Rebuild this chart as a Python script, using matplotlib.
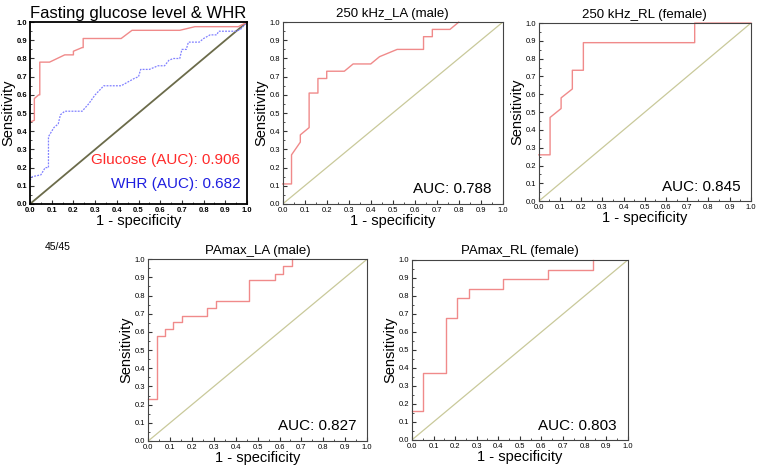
import matplotlib
matplotlib.use("Agg")
import matplotlib.pyplot as plt
from matplotlib.ticker import MultipleLocator

plt.rcParams['font.family'] = ['Liberation Sans', 'DejaVu Sans']

# ROC curves (x = 1 - specificity, y = sensitivity)
glu_x = [0, 0.02, 0.02, 0.04, 0.045, 0.045, 0.09, 0.16, 0.20, 0.20, 0.24, 0.245, 0.245, 0.42, 0.47, 0.69, 0.76, 0.96, 1.0]
glu_y = [0.45, 0.46, 0.58, 0.60, 0.60, 0.78, 0.78, 0.82, 0.82, 0.84, 0.86, 0.86, 0.91, 0.91, 0.955, 0.955, 0.975, 0.975, 1.0]

whr_x = [0, 0.01, 0.05, 0.07, 0.085, 0.085, 0.11, 0.13, 0.14, 0.16, 0.24, 0.27, 0.30, 0.34, 0.42, 0.45, 0.48, 0.50, 0.51, 0.55,
         0.59, 0.62, 0.64, 0.66, 0.69, 0.70, 0.72, 0.73, 0.78, 0.80, 0.83, 0.86, 0.87, 0.95, 0.97, 1.0]
whr_y = [0.13, 0.15, 0.16, 0.20, 0.20, 0.37, 0.42, 0.44, 0.49, 0.51, 0.51, 0.55, 0.60, 0.65, 0.65, 0.67, 0.69, 0.70, 0.74, 0.74,
         0.76, 0.76, 0.79, 0.80, 0.80, 0.85, 0.85, 0.89, 0.89, 0.91, 0.93, 0.93, 0.95, 0.95, 0.96, 1.0]

la250_x = [0, 0.04, 0.04, 0.08, 0.08, 0.12, 0.12, 0.16, 0.16, 0.20, 0.20, 0.28, 0.32, 0.40, 0.44, 0.52, 0.64, 0.64, 0.68, 0.68, 0.76, 0.80]
la250_y = [0.11, 0.11, 0.27, 0.34, 0.38, 0.42, 0.61, 0.61, 0.69, 0.69, 0.73, 0.73, 0.77, 0.77, 0.81, 0.85, 0.85, 0.92, 0.92, 0.96, 0.96, 1.0]

rl250_x = [0, 0.053, 0.053, 0.105, 0.105, 0.158, 0.158, 0.21, 0.21, 0.735, 0.735, 1.0]
rl250_y = [0.26, 0.26, 0.47, 0.52, 0.58, 0.63, 0.735, 0.735, 0.89, 0.89, 1.0, 1.0]

lapa_x = [0, 0.038, 0.038, 0.077, 0.077, 0.115, 0.115, 0.154, 0.154, 0.27, 0.27, 0.31, 0.31, 0.46, 0.46, 0.58, 0.58, 0.615, 0.615, 0.655, 0.655]
lapa_y = [0.23, 0.23, 0.58, 0.58, 0.615, 0.615, 0.655, 0.655, 0.69, 0.69, 0.73, 0.73, 0.77, 0.77, 0.885, 0.885, 0.92, 0.92, 0.96, 0.96, 1.0]

rlpa_x = [0, 0.053, 0.053, 0.158, 0.158, 0.21, 0.21, 0.263, 0.263, 0.42, 0.42, 0.63, 0.63, 0.84, 0.84]
rlpa_y = [0.16, 0.16, 0.37, 0.37, 0.68, 0.68, 0.79, 0.79, 0.84, 0.84, 0.895, 0.895, 0.947, 0.947, 1.0]

titles = ["250 kHz_LA (male)", "250 kHz_RL (female)", "PAmax_LA (male)", "PAmax_RL (female)"]
auc_labels = ["AUC: 0.788", "AUC: 0.845", "AUC: 0.827", "AUC: 0.803"]
curves = [(la250_x, la250_y), (rl250_x, rl250_y), (lapa_x, lapa_y), (rlpa_x, rlpa_y)]

roc_red = '#f08a8a'
diag_col = '#c9c99a'

fig = plt.figure(figsize=(7.6, 4.71), dpi=100)


def style_axes(ax, bold=False, lw=0.8):
    ax.set_xlim(0, 1)
    ax.set_ylim(0, 1)
    ticks = [round(i * 0.1, 1) for i in range(11)]
    ax.set_xticks(ticks)
    ax.set_yticks(ticks)
    ax.set_xticklabels([f"{t:.1f}" for t in ticks], fontweight='bold' if bold else 'normal')
    ax.set_yticklabels([f"{t:.1f}" for t in ticks], fontweight='bold' if bold else 'normal')
    ax.xaxis.set_minor_locator(MultipleLocator(0.05))
    ax.yaxis.set_minor_locator(MultipleLocator(0.05))
    ax.tick_params(which='both', direction='in', labelsize=5.5, pad=2, color='#333333')
    ax.tick_params(which='major', length=3)
    ax.tick_params(which='minor', length=1.5)
    for s in ax.spines.values():
        s.set_linewidth(lw)
        s.set_color('black' if bold else '#444444')
    ax.set_xlabel("1 - specificity", fontsize=10.5, labelpad=0)
    ax.set_ylabel("Sensitivity", fontsize=10.5, labelpad=1)


# panel 1: glucose & WHR
ax1 = fig.add_axes([0.0395, 0.567, 0.2855, 0.386])
ax1.plot([0, 1], [0, 1], color='#6b6b4a', lw=1.3)
ax1.plot(whr_x, whr_y, color='#8080ff', lw=0.9, ls=(0, (1.5, 1)))
ax1.plot(glu_x, glu_y, color=roc_red, lw=1.0)
style_axes(ax1, bold=True, lw=1.3)
ax1.set_title("Fasting glucose level & WHR", fontsize=12, pad=3)
ax1.text(0.97, 0.24, "Glucose (AUC): 0.906", color='#ff2a2a', fontsize=11, ha='right', va='center', transform=ax1.transAxes)
ax1.text(0.97, 0.11, "WHR (AUC): 0.682", color='#1f1fe0', fontsize=11, ha='right', va='center', transform=ax1.transAxes)

positions = [
    [0.372, 0.567, 0.2895, 0.386],
    [0.709, 0.573, 0.279, 0.378],
    [0.195, 0.0637, 0.288, 0.386],
    [0.542, 0.066, 0.284, 0.382],
]

for pos, title, auc, (cx, cy) in zip(positions, titles, auc_labels, curves):
    ax = fig.add_axes(pos)
    ax.plot([0, 1], [0, 1], color=diag_col, lw=0.9)
    ax.plot(cx, cy, color=roc_red, lw=1.0, clip_on=False)
    style_axes(ax)
    ax.set_title(title, fontsize=9.5, pad=4)
    ax.text(0.95, 0.08, auc, fontsize=11, ha='right', va='center', transform=ax.transAxes)

fig.text(0.059, 0.475, "45/45", fontsize=7.5, ha='left', va='center')

fig.savefig("out.png", dpi=100)
